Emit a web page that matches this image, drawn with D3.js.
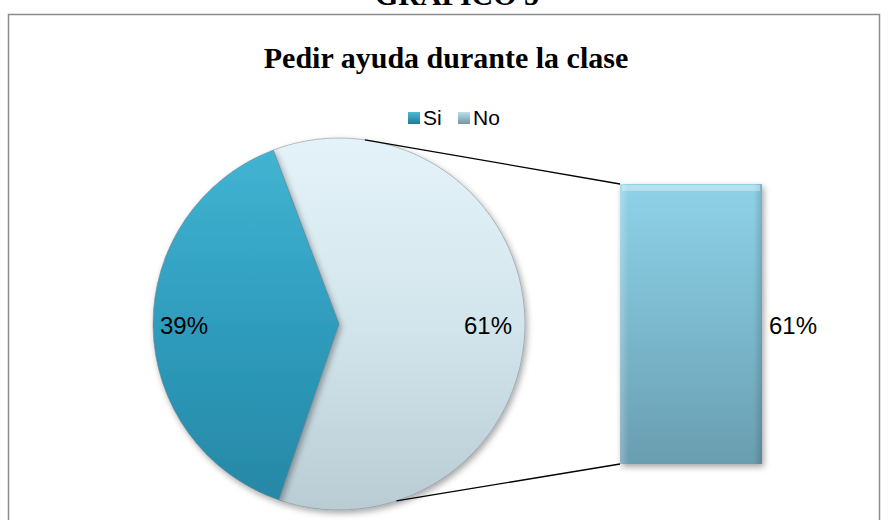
<!DOCTYPE html>
<html><head><meta charset="utf-8">
<script src="https://cdn.jsdelivr.net/npm/d3@7"></script>
<style>body{margin:0;background:#fff}svg{display:block}</style>
</head><body>
<script>
const categories = ["Si", "No"];
const values = [39, 61];
const pieLabels = ["39%", "61%"];
const barLabels = ["61%"];
const title = "Pedir ayuda durante la clase";
const pageTitle = "GRAFICO 5";

const W = 889, H = 520;
const svg = d3.select("body").append("svg").attr("width", W).attr("height", H);
const defs = svg.append("defs");

function vgrad(id, stops) {
  const g = defs.append("linearGradient").attr("id", id).attr("x1", 0).attr("y1", 0).attr("x2", 0).attr("y2", 1);
  stops.forEach(s => g.append("stop").attr("offset", s[0]).attr("stop-color", s[1]));
}
vgrad("gSi", [[0, "#42b4d2"], [0.5, "#2f9cbd"], [1, "#2688a6"]]);
vgrad("gNo", [[0, "#e4f3f9"], [0.5, "#d3e5ec"], [1, "#b9ccd4"]]);
vgrad("gBar", [[0, "#8fd2e8"], [0.5, "#7bb9ce"], [1, "#6a9db0"]]);
vgrad("gLegSi", [[0, "#4bbad6"], [1, "#1f7a96"]]);
vgrad("gLegNo", [[0, "#bfe0ea"], [1, "#6d96a6"]]);
const hg = defs.append("linearGradient").attr("id", "gBarH").attr("x1", 0).attr("x2", 1).attr("y1", 0).attr("y2", 0);
[[0, "rgba(255,255,255,0.25)"], [0.06, "rgba(255,255,255,0)"], [0.94, "rgba(0,0,0,0)"], [1, "rgba(0,0,0,0.15)"]]
  .forEach(s => hg.append("stop").attr("offset", s[0]).attr("stop-color", s[1]));
const f = defs.append("filter").attr("id", "sh").attr("x", "-20%").attr("y", "-20%").attr("width", "140%").attr("height", "140%");
f.append("feDropShadow").attr("dx", 2).attr("dy", 3).attr("stdDeviation", 3).attr("flood-color", "#000").attr("flood-opacity", 0.35);

// page title (partly above the visible area, as in the reference)
svg.append("text").attr("x", 457).attr("y", 5).attr("text-anchor", "middle")
  .attr("font-family", "Liberation Serif, Times New Roman, serif").attr("font-weight", "bold")
  .attr("font-size", 30).attr("fill", "#000").text(pageTitle);

// chart frame
svg.append("rect").attr("x", 8.5).attr("y", 14.5).attr("width", 871).attr("height", 520)
  .attr("fill", "#fff").attr("stroke", "#8c8c8c").attr("stroke-width", 1.5);

// title
svg.append("text").attr("x", 446).attr("y", 68).attr("text-anchor", "middle")
  .attr("font-family", "Liberation Serif, Times New Roman, serif").attr("font-weight", "bold")
  .attr("font-size", 30).attr("fill", "#000").text(title);

// legend
const leg = svg.append("g").attr("font-family", "Liberation Sans, Arial, sans-serif").attr("font-size", 21);
const legX = [408, 458];
categories.forEach((c, i) => {
  leg.append("rect").attr("x", legX[i]).attr("y", 112).attr("width", 12).attr("height", 12)
    .attr("fill", i === 0 ? "url(#gLegSi)" : "url(#gLegNo)");
  leg.append("text").attr("x", legX[i] + 15).attr("y", 125).attr("fill", "#000").text(c);
});

// pie
const cx = 339, cy = 324, R = 186;
const deg = Math.PI / 180;
const order = [1, 0]; // No first, then Si
const pie = d3.pie().sort(null).value(i => values[i])
  .startAngle(-20.7 * deg).endAngle(-20.7 * deg + 2 * Math.PI);
const arcs = pie(order);
const arc = d3.arc().innerRadius(0).outerRadius(R);
const pg = svg.append("g").attr("transform", `translate(${cx},${cy})`);
pg.selectAll("path").data(arcs).join("path")
  .attr("d", arc)
  .attr("fill", d => d.data === 0 ? "url(#gSi)" : "url(#gNo)")
  .attr("stroke", "rgba(120,130,135,0.5)").attr("stroke-width", 1)
  .attr("filter", "url(#sh)");

// pie labels
const lab = svg.append("g").attr("font-family", "Liberation Sans, Arial, sans-serif").attr("font-size", 24).attr("fill", "#000");
lab.append("text").attr("x", 160).attr("y", 334).text(pieLabels[0]);
lab.append("text").attr("x", 512).attr("y", 334).attr("text-anchor", "end").text(pieLabels[1]);

// bar of pie
const bx0 = 620, bw = 142;
const y = d3.scaleLinear().domain([0, values[1]]).range([464, 184]);
const bar = svg.append("g");
bar.append("rect").attr("x", bx0).attr("y", y(values[1])).attr("width", bw).attr("height", y(0) - y(values[1]))
  .attr("fill", "url(#gBar)").attr("filter", "url(#sh)");
bar.append("rect").attr("x", bx0).attr("y", y(values[1])).attr("width", bw).attr("height", y(0) - y(values[1]))
  .attr("fill", "url(#gBarH)");
bar.append("rect").attr("x", bx0 + 2).attr("y", y(values[1]) + 1).attr("width", bw - 4).attr("height", 6)
  .attr("fill", "rgba(255,255,255,0.35)");
lab.append("text").attr("x", 793).attr("y", 334).attr("text-anchor", "middle").text(barLabels[0]);

// connector lines
const a1 = 8 * deg, a2 = 162 * deg;
svg.append("line").attr("x1", cx + R * Math.sin(a1)).attr("y1", cy - R * Math.cos(a1))
  .attr("x2", bx0).attr("y2", y(values[1])).attr("stroke", "#000").attr("stroke-width", 1.3);
svg.append("line").attr("x1", cx + R * Math.sin(a2)).attr("y1", cy - R * Math.cos(a2))
  .attr("x2", bx0).attr("y2", y(0)).attr("stroke", "#000").attr("stroke-width", 1.3);
</script>
</body></html>
